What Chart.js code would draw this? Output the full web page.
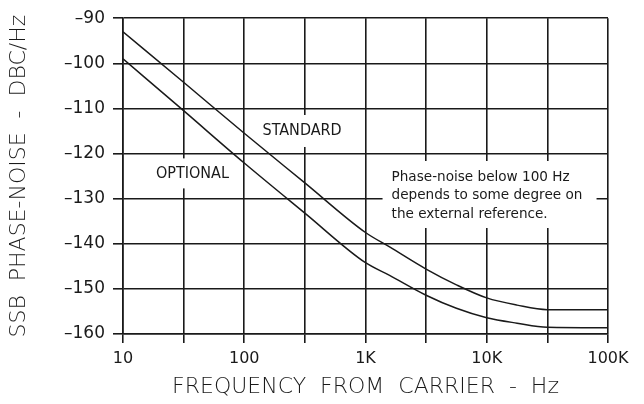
<!DOCTYPE html>
<html><head><meta charset="utf-8">
<script src="https://cdn.jsdelivr.net/npm/chart.js@4/dist/chart.umd.min.js"></script>
<style>html,body{margin:0;padding:0;background:#fff}#wrap{width:644px;height:404px}</style>
</head><body><div id="wrap"><canvas id="c" width="644" height="404"></canvas></div>
<script>
const freqs = [10, 31.6, 100, 316, 1000, 1580, 3160, 5620, 10000, 17800, 31600, 100000];
const standardNoise = [-93, -104.2, -115.5, -126.5, -137.5, -140.7, -145.6, -149.1, -152.0, -153.6, -154.6, -154.6];
const optionalNoise = [-99, -110.5, -122.1, -133.2, -144.2, -147.0, -151.4, -154.3, -156.4, -157.6, -158.5, -158.6];
const xGridValues = [10, 31.62, 100, 316.2, 1000, 3162, 10000, 31620, 100000];
const xTickLabels = {10: '10', 100: '100', 1000: '1K', 10000: '10K', 100000: '100K'};
const yTickValues = [-90, -100, -110, -120, -130, -140, -150, -160];

const INK = '#1a1a1a';
const annotations = {
  id: 'annotations',
  beforeDatasetsDraw(chart) {
    const ctx = chart.ctx, xs = chart.scales.x, ys = chart.scales.y;
    ctx.save();
    ctx.fillStyle = '#fff';
    const boxes = [
      {x: 300, y: -115.0, w: 88, h: 32},
      {x: 37.4, y: -124.4, w: 84, h: 30},
    ];
    boxes.forEach(b => {
      const px = xs.getPixelForValue(b.x), py = ys.getPixelForValue(b.y);
      ctx.fillRect(px - b.w / 2, py - b.h / 2, b.w, b.h);
    });
    const nx = xs.getPixelForValue(1640), ny = ys.getPixelForValue(-125.2);
    ctx.fillRect(nx - 9, ny - 16, 214, 67);
    ctx.fillStyle = INK;
    ctx.textAlign = 'center';
    ctx.textBaseline = 'middle';
    ctx.font = '16px "DejaVu Sans Condensed", "DejaVu Sans"';
    ctx.fillText('STANDARD', xs.getPixelForValue(300), ys.getPixelForValue(-115.0));
    ctx.fillText('OPTIONAL', xs.getPixelForValue(37.4), ys.getPixelForValue(-124.4));
    ctx.textAlign = 'left';
    ctx.font = '13.6px "DejaVu Sans"';
    const lines = ['Phase-noise below 100 Hz', 'depends to some degree on', 'the external reference.'];
    lines.forEach((t, i) => ctx.fillText(t, nx, ny + i * 18.5));
    ctx.restore();
  }
};

new Chart(document.getElementById('c'), {
  type: 'line',
  data: {
    datasets: [
      {label: 'STANDARD', data: freqs.map((f, i) => ({x: f, y: standardNoise[i]})),
       borderColor: INK, borderWidth: 1.5, pointRadius: 0, cubicInterpolationMode: 'monotone', fill: false},
      {label: 'OPTIONAL', data: freqs.map((f, i) => ({x: f, y: optionalNoise[i]})),
       borderColor: INK, borderWidth: 1.5, pointRadius: 0, cubicInterpolationMode: 'monotone', fill: false}
    ]
  },
  plugins: [annotations],
  options: {
    responsive: false,
    animation: false,
    events: [],
    layout: {padding: {top: 12, right: 36, left: 0, bottom: 0}},
    plugins: {legend: {display: false}, tooltip: {enabled: false}},
    scales: {
      x: {
        type: 'logarithmic', min: 10, max: 100000,
        afterBuildTicks(s) { s.ticks = xGridValues.map(v => ({value: v})); },
        afterFit(s) { s.height = 70; },
        grid: {color: INK, lineWidth: 1.6, tickLength: 9, drawTicks: true},
        border: {color: INK, width: 1.6},
        ticks: {
          autoSkip: false, maxRotation: 0, padding: 6, color: INK,
          font: {family: '"DejaVu Sans"', size: 16},
          callback(v) { const k = Math.round(v); return xTickLabels[k] !== undefined && Math.abs(k - v) < 1e-6 ? xTickLabels[k] : ''; }
        },
        title: {display: true, text: 'FREQUENCY  FROM  CARRIER  -  Hz', color: INK,
          font: {family: '"DejaVu Sans"', size: 22, weight: 200}, padding: {top: 3}}
      },
      y: {
        min: -160, max: -90,
        afterBuildTicks(s) { s.ticks = yTickValues.map(v => ({value: v})); },
        afterFit(s) { s.width = 123; },
        grid: {color: INK, lineWidth: 1.6, tickLength: 10},
        border: {color: INK, width: 1.6},
        ticks: {color: INK, padding: 8, font: {family: '"DejaVu Sans"', size: 17},
          callback(v) { return String(v).replace('-', '\u2013'); }},
        title: {display: true, text: 'SSB  PHASE-NOISE  -  DBC/Hz', color: INK,
          font: {family: '"DejaVu Sans"', size: 22, weight: 200}, padding: {bottom: 0, top: 6}}
      }
    }
  }
});
</script></body></html>
